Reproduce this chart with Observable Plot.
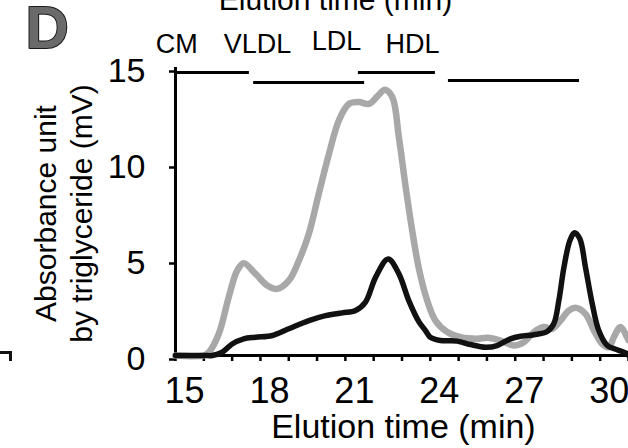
<!DOCTYPE html>
<html>
<head>
<meta charset="utf-8">
<script src="https://cdn.jsdelivr.net/npm/d3@7"></script>
<script src="https://cdn.jsdelivr.net/npm/@observablehq/plot@0.6"></script>
<style>
  html, body { margin: 0; padding: 0; background: #fff; }
  #wrap { position: relative; width: 628px; height: 448px; overflow: hidden; background: #fff; }
  #frag { position: absolute; left: 0; top: 351px; width: 9px; height: 7px; border-top: 3px solid #111; border-right: 3px solid #111; }
</style>
</head>
<body>
<div id="wrap"><div id="chart"></div><div id="frag"></div></div>
<script>
// Elution time (min) and absorbance (mV) for the two traces
const greyTime = [15, 16, 16.18, 16.53, 16.88, 17.18, 17.41, 17.83, 18.24, 18.59, 19.0, 19.36, 19.71, 20.06, 20.42, 20.77, 21.12, 21.48, 21.83, 22.13, 22.4, 22.66, 22.89, 23.13, 23.36, 23.6, 23.89, 24.18, 24.6, 25.07, 25.65, 26.01, 26.48, 26.95, 27.3, 27.66, 28.01, 28.3, 28.6, 28.89, 29.16, 29.48, 29.78, 30.07, 30.31, 30.48, 30.72, 30.95, 31.0];
const greyValue = [0, 0, 0.17, 1.13, 3.04, 4.43, 4.81, 4.25, 3.65, 3.47, 3.9, 4.95, 6.34, 8.42, 10.5, 12.24, 13.1, 13.2, 13.1, 13.5, 13.84, 13.45, 11.37, 8.77, 6.51, 4.5, 2.86, 1.82, 1.22, 0.95, 0.87, 0.92, 0.78, 0.52, 0.69, 1.22, 1.48, 1.39, 1.82, 2.34, 2.48, 2.17, 1.3, 0.61, 0.43, 0.95, 1.48, 0.95, 0.8];

const blackTime = [15, 16, 16.3, 16.65, 17.0, 17.41, 17.83, 18.42, 19.0, 19.71, 20.3, 20.89, 21.36, 21.71, 22.07, 22.51, 22.89, 23.24, 23.6, 23.83, 24.0, 24.36, 24.95, 25.42, 25.95, 26.36, 26.83, 27.19, 27.66, 28.13, 28.36, 28.54, 28.72, 28.93, 29.09, 29.28, 29.48, 29.72, 29.95, 30.25, 30.6, 30.95, 31];
const blackValue = [0, 0, 0, 0.17, 0.6, 0.87, 0.95, 1.04, 1.39, 1.82, 2.08, 2.22, 2.34, 2.78, 4.08, 5.03, 4.25, 2.86, 1.75, 1.3, 0.95, 0.78, 0.75, 0.57, 0.43, 0.52, 0.87, 1.0, 1.08, 1.25, 1.65, 2.86, 4.6, 5.99, 6.39, 6.08, 4.6, 2.69, 1.3, 0.52, 0.3, 0.09, 0];

// Lipoprotein fractions (elution time ranges)
const fractionNames = ["CM", "VLDL", "LDL", "HDL"];
const fractionStart = [15.07, 17.76, 21.46, 24.64];
const fractionEnd = [17.61, 21.68, 24.18, 29.27];

const xTickLabels = [15, 18, 21, 24, 27, 30];
const yTickLabels = [0, 5, 10, 15];

const grey = greyTime.map((t, i) => ({t, v: greyValue[i]}));
const black = blackTime.map((t, i) => ({t, v: blackValue[i]}));
const fractions = fractionNames.map((name, i) => ({name, x1: fractionStart[i], x2: fractionEnd[i]}));

const font = "'Liberation Sans', Arial, Helvetica, sans-serif";

const chart = Plot.plot({
  width: 628,
  height: 448,
  marginLeft: 175,
  marginRight: 0,
  marginTop: 67,
  marginBottom: 93,
  style: {fontFamily: font, background: "#fff", color: "#000", overflow: "visible"},
  x: {domain: [15, 31]},
  y: {domain: [0, 15]},
  marks: [
    // axes
    Plot.axisX({ticks: d3.range(15, 32), tickSize: 6, tickFormat: () => "", strokeWidth: 2.5, label: null}),
    Plot.axisX({ticks: xTickLabels, tickSize: 0, tickPadding: 22, fontSize: 36, dx: 9, label: null, fill: "#000"}),
    Plot.axisY({ticks: yTickLabels, tickSize: 6, tickPadding: 24, fontSize: 34, dy: 4, strokeWidth: 2.5, label: null, fill: "#000"}),
    Plot.ruleY([0], {stroke: "#000", strokeWidth: 3}),
    Plot.ruleX([15], {stroke: "#000", strokeWidth: 3}),
    // traces
    Plot.line(grey, {x: "t", y: "v", stroke: "#a8a8a8", strokeWidth: 6.5, curve: "catmull-rom"}),
    Plot.line(black, {x: "t", y: "v", stroke: "#111", strokeWidth: 5.5, curve: "catmull-rom"}),
    // fraction bars
    Plot.ruleY(fractions, {y: [14.74, 14.22, 14.74, 14.32], x1: "x1", x2: "x2", stroke: "#000", strokeWidth: 3}),
    Plot.text(fractions, {x: [15.04, 17.9, 20.69, 23.37], y: [15.78, 15.78, 15.89, 15.78], text: "name", fontSize: 27, lineAnchor: "bottom", fill: "#000"}),
    // titles
    Plot.text(["Elution time (min)"], {x: [23.05], y: [-4.32], text: d => d, fontSize: 34, lineAnchor: "bottom", fill: "#000"}),
    Plot.text(["Elution time (min)"], {x: [20.65], y: [17.97], text: d => d, fontSize: 30, lineAnchor: "bottom", fill: "#000"}),
    Plot.text(["Absorbance unit\nby triglyceride (mV)"], {frameAnchor: "left", text: d => d, rotate: -90, dx: -113, dy: 2, fontSize: 30, lineHeight: 1.2, lineAnchor: "middle", textAnchor: "middle", fill: "#000"}),
    Plot.text(["D"], {x: [9.7], y: [16.04], text: d => d, fontSize: 60, fontWeight: "bold", textAnchor: "start", lineAnchor: "bottom", fill: "#6a6a6a", stroke: "#1a1a1a", strokeWidth: 2})
  ]
});
document.getElementById("chart").appendChild(chart);
</script>
</body>
</html>
